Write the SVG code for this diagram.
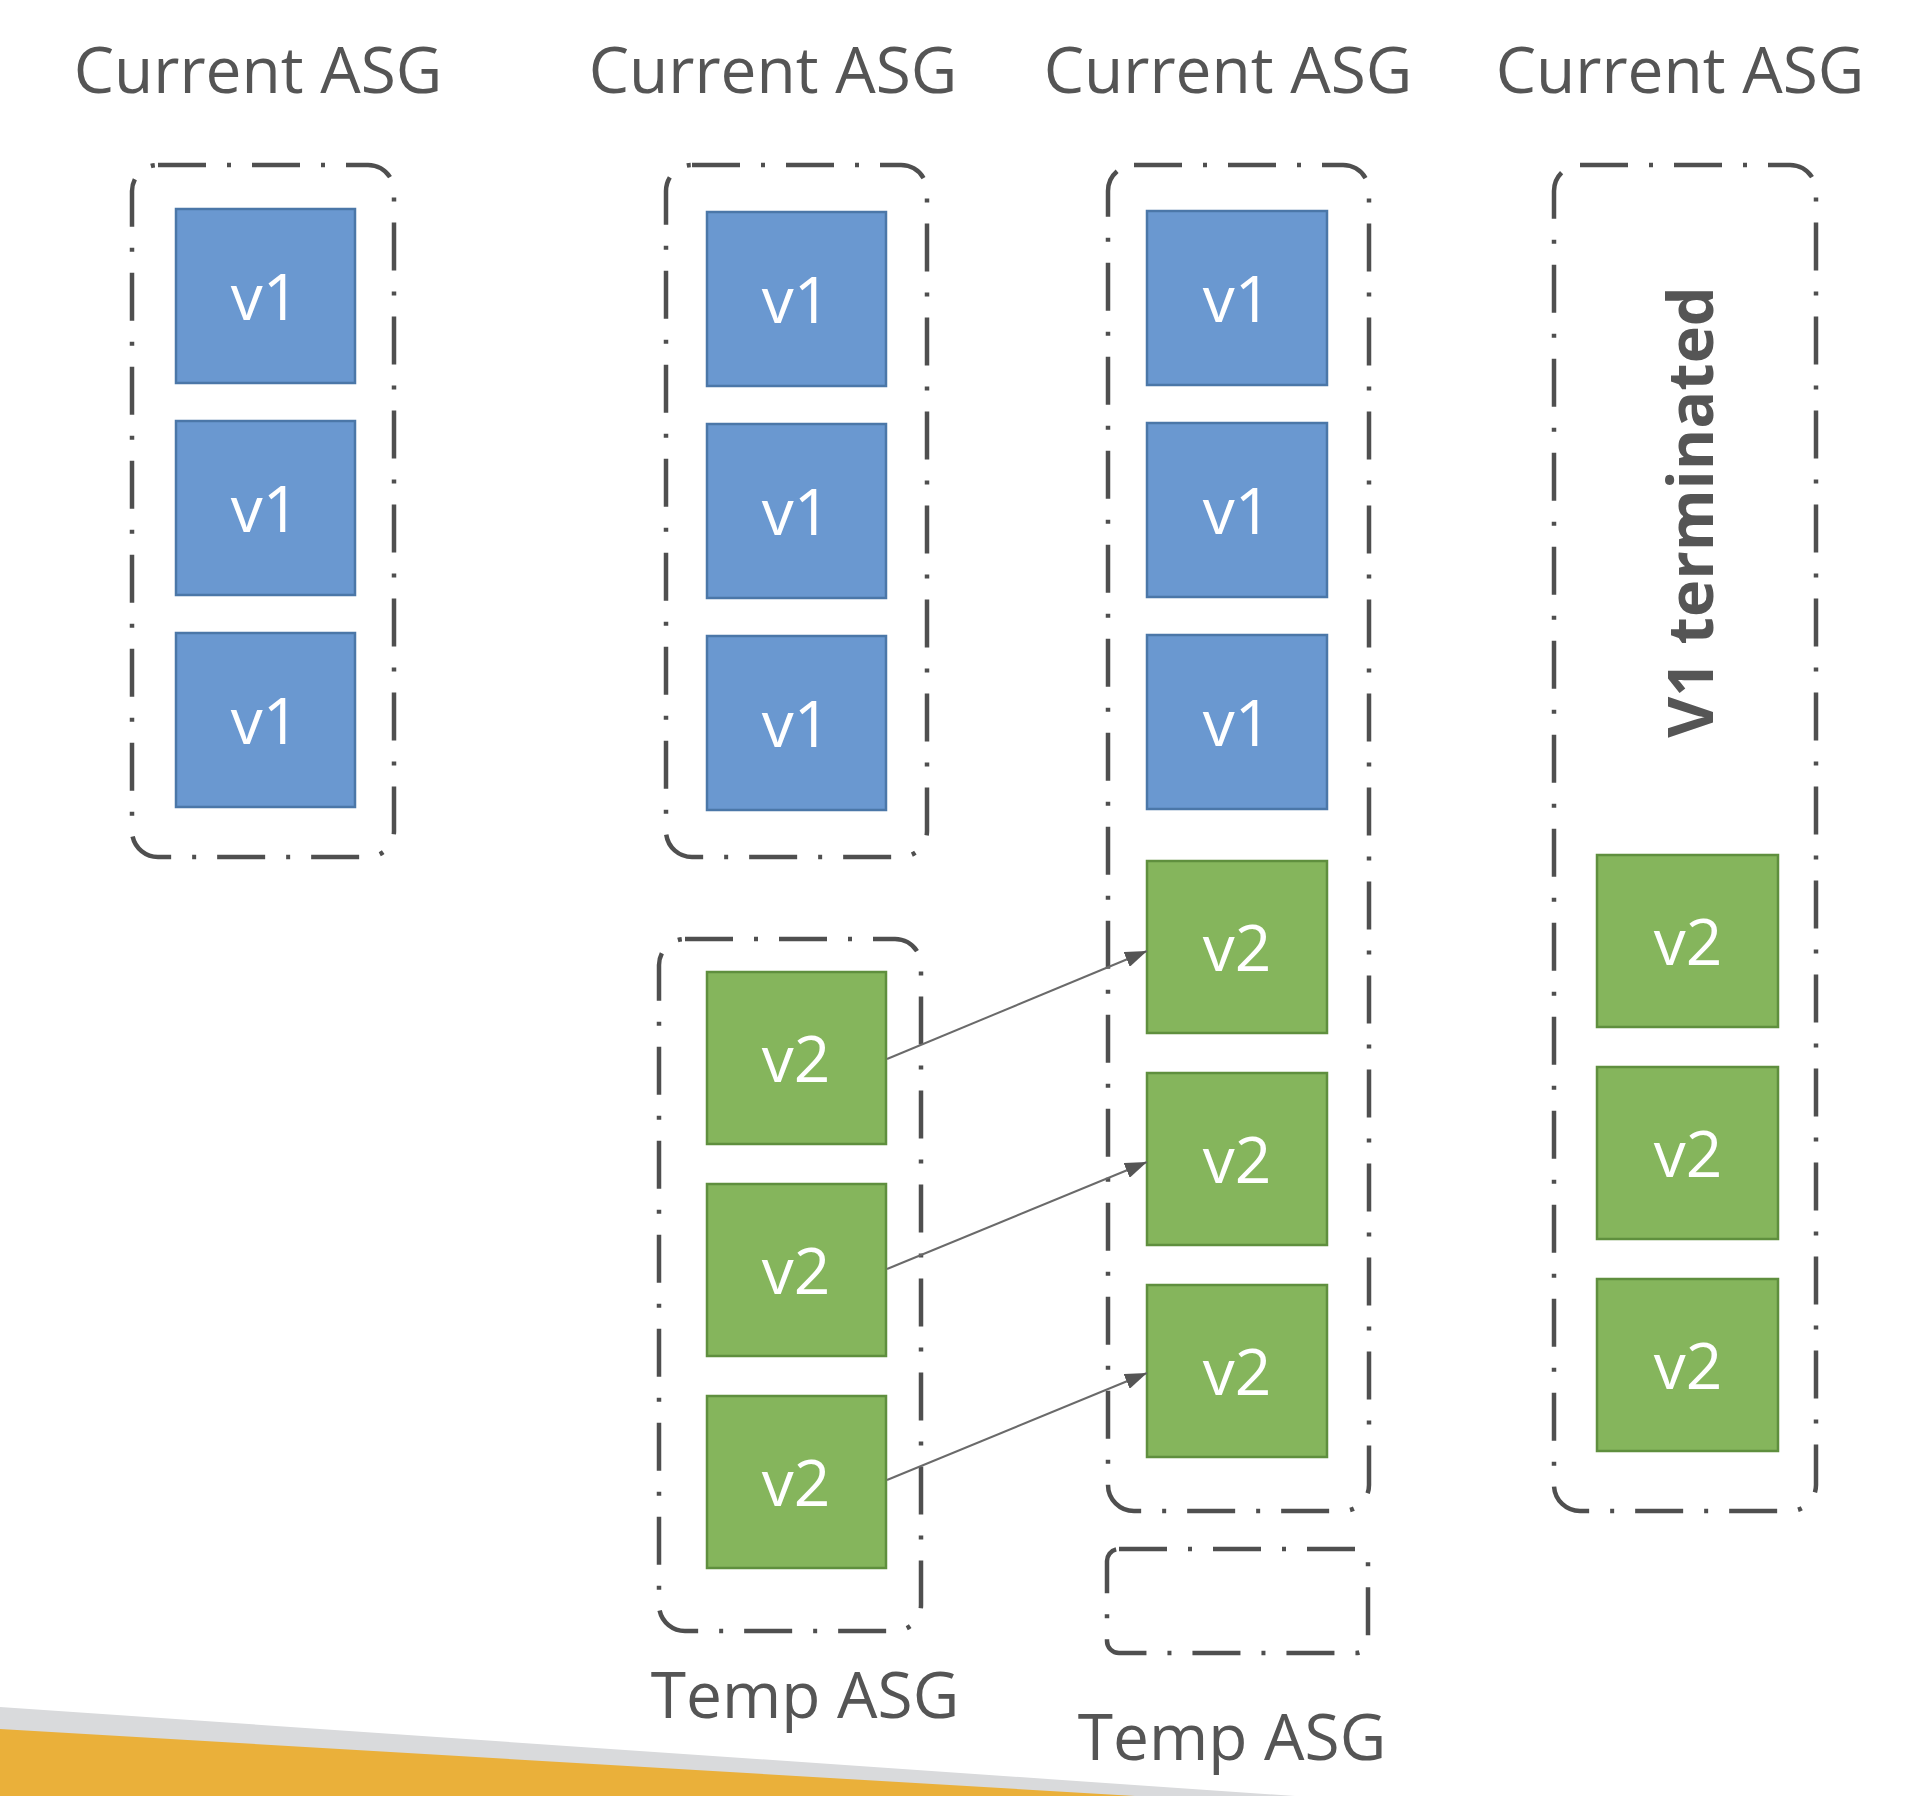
<svg xmlns="http://www.w3.org/2000/svg" width="1920" height="1796" viewBox="0 0 1920 1796">
<defs>
<style>
.asg{fill:none;stroke:#4f4f4f;stroke-width:4.5;stroke-dasharray:48 21 4 21}
.v1{fill:#6a98d0;stroke:#4b77a8;stroke-width:2.5}
.v2{fill:#85b55c;stroke:#5f8f3e;stroke-width:2.5}
.lbl{font-family:"Open Sans","DejaVu Sans",sans-serif;font-size:64px;fill:#fff;text-anchor:middle}
.hdr{font-family:"Open Sans","DejaVu Sans",sans-serif;font-size:64px;fill:#555;text-anchor:middle}
.conn{stroke:#6a6a6a;stroke-width:2;fill:none;marker-end:url(#ah)}
</style>
<marker id="ah" viewBox="0 0 22 16" refX="22" refY="8" markerWidth="22" markerHeight="16" markerUnits="userSpaceOnUse" orient="auto">
<path d="M0,0 L22,8 L0,16 Z" fill="#555"/>
</marker>
</defs>
<rect width="1920" height="1796" fill="#fff"/>
<polygon points="0,1707 1295,1796 0,1796" fill="#d9dadc"/>
<polygon points="0,1729 1135,1796 0,1796" fill="#eab03a"/>

<g id="headers">
<text class="hdr" x="258" y="93">Current ASG</text>
<text class="hdr" x="773" y="93">Current ASG</text>
<text class="hdr" x="1228" y="93">Current ASG</text>
<text class="hdr" x="1680" y="93">Current ASG</text>
</g>

<g id="asg1">
<rect class="asg" x="132" y="165" width="262" height="692" rx="26"/>
</g>
<g id="n1a"><rect class="v1" x="176" y="209" width="179" height="174"/><text class="lbl" x="265" y="320">v1</text></g>
<g id="n1b"><rect class="v1" x="176" y="421" width="179" height="174"/><text class="lbl" x="265" y="532">v1</text></g>
<g id="n1c"><rect class="v1" x="176" y="633" width="179" height="174"/><text class="lbl" x="265" y="744">v1</text></g>

<g id="asg2">
<rect class="asg" x="666" y="165" width="261" height="692" rx="26"/>
</g>
<g id="n2a"><rect class="v1" x="707" y="212" width="179" height="174"/><text class="lbl" x="796" y="323">v1</text></g>
<g id="n2b"><rect class="v1" x="707" y="424" width="179" height="174"/><text class="lbl" x="796" y="535">v1</text></g>
<g id="n2c"><rect class="v1" x="707" y="636" width="179" height="174"/><text class="lbl" x="796" y="747">v1</text></g>

<g id="temp2">
<rect class="asg" x="659" y="939" width="262" height="692" rx="26"/>
<text class="hdr" x="805" y="1718">Temp ASG</text>
</g>
<g id="t2a"><rect class="v2" x="707" y="972" width="179" height="172"/><text class="lbl" x="796" y="1082">v2</text></g>
<g id="t2b"><rect class="v2" x="707" y="1184" width="179" height="172"/><text class="lbl" x="796" y="1294">v2</text></g>
<g id="t2c"><rect class="v2" x="707" y="1396" width="179" height="172"/><text class="lbl" x="796" y="1506">v2</text></g>

<g id="asg3">
<rect class="asg" x="1108" y="165" width="261" height="1346" rx="26"/>
</g>
<g id="n3a"><rect class="v1" x="1147" y="211" width="180" height="174"/><text class="lbl" x="1237" y="322">v1</text></g>
<g id="n3b"><rect class="v1" x="1147" y="423" width="180" height="174"/><text class="lbl" x="1237" y="534">v1</text></g>
<g id="n3c"><rect class="v1" x="1147" y="635" width="180" height="174"/><text class="lbl" x="1237" y="746">v1</text></g>
<g id="g3a"><rect class="v2" x="1147" y="861" width="180" height="172"/><text class="lbl" x="1237" y="971">v2</text></g>
<g id="g3b"><rect class="v2" x="1147" y="1073" width="180" height="172"/><text class="lbl" x="1237" y="1183">v2</text></g>
<g id="g3c"><rect class="v2" x="1147" y="1285" width="180" height="172"/><text class="lbl" x="1237" y="1395">v2</text></g>

<g id="temp3">
<rect class="asg" x="1107" y="1549" width="261" height="104" rx="12"/>
<text class="hdr" x="1232" y="1760">Temp ASG</text>
</g>

<g id="asg4">
<rect class="asg" x="1554" y="165" width="262" height="1346" rx="26"/>
<text transform="translate(1713,512) rotate(-90)" x="0" y="0" font-family="Open Sans, DejaVu Sans, sans-serif" font-weight="bold" font-size="63" fill="#555" text-anchor="middle">V1 terminated</text>
</g>
<g id="g4a"><rect class="v2" x="1597" y="855" width="181" height="172"/><text class="lbl" x="1688" y="965">v2</text></g>
<g id="g4b"><rect class="v2" x="1597" y="1067" width="181" height="172"/><text class="lbl" x="1688" y="1177">v2</text></g>
<g id="g4c"><rect class="v2" x="1597" y="1279" width="181" height="172"/><text class="lbl" x="1688" y="1389">v2</text></g>

<g id="connectors">
<line class="conn" x1="887" y1="1059" x2="1147" y2="951"/>
<line class="conn" x1="887" y1="1269" x2="1147" y2="1162"/>
<line class="conn" x1="887" y1="1480" x2="1147" y2="1373"/>
</g>
</svg>
